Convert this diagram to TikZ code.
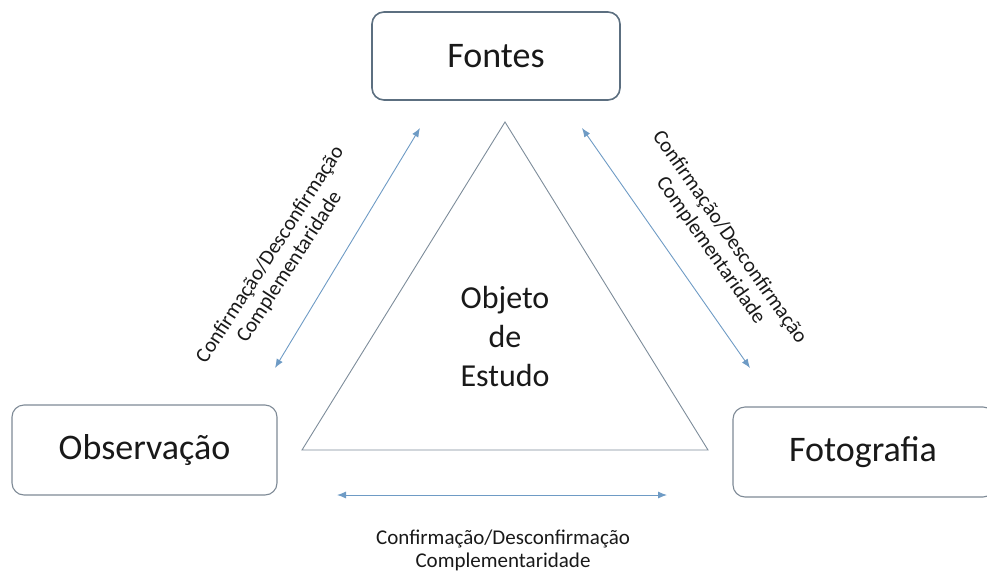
\documentclass[tikz,border=0pt]{standalone}
\usepackage{fontspec}
\setmainfont{Carlito}
\usetikzlibrary{arrows.meta}
\definecolor{boxline}{HTML}{7E8A96}
\definecolor{topline}{HTML}{5C6F80}
\definecolor{arrowblue}{HTML}{6E9BC5}
\definecolor{triline}{HTML}{7D8C9A}
\tikzset{
  rbox/.style={draw=boxline, line width=1.1pt, rounded corners=12pt, fill=white,
    inner sep=0pt, font=\fontsize{36}{43}\selectfont, text=black!90},
  biarrow/.style={draw=arrowblue, line width=0.9pt, {Latex[length=9pt,width=7pt]}-{Latex[length=9pt,width=7pt]}},
  lbl/.style={align=center, inner sep=0pt, font=\fontsize{21}{23}\selectfont, text=black!90},
}
\begin{document}
\begin{tikzpicture}[x=1pt,y=-1pt]
\useasboundingbox (0,0) rectangle (987,573);
\clip (0,0) rectangle (987,573);
% boxes
\node[rbox, draw=topline, line width=1.6pt, minimum width=248pt, minimum height=88pt] (fontes) at (496,56) {Fontes};
\node[rbox, minimum width=265pt, minimum height=90pt] (obs) at (144.5,450) {Observação};
\node[rbox, minimum width=262pt, minimum height=90pt] (foto) at (864,452) {\hspace*{-2pt}Fotografia};
% triangle
\coordinate (tA) at (505,122);
\coordinate (tB) at (302,450);
\coordinate (tC) at (708,450);
\draw[triline, line width=0.9pt, line join=miter] (tA) -- (tB) -- (tC) -- cycle;
\node[align=center, inner sep=0pt, font=\fontsize{32}{39}\selectfont, text=black!90] (obj) at (505,337) {Objeto\\de\\Estudo};
% arrows
\coordinate (l1) at (420,128);
\coordinate (l2) at (275,368);
\draw[biarrow] (l2) -- (l1);
\coordinate (r1) at (582,128);
\coordinate (r2) at (750,368);
\draw[biarrow] (r1) -- (r2);
\coordinate (b1) at (337,495);
\coordinate (b2) at (667,495);
\draw[biarrow] (b1) -- (b2);
% labels
\node[lbl, rotate=57] (lleft) at (280,261) {Confirmação/Desconfirmação\\Complementaridade};
\node[lbl, rotate=-55] (lright) at (720,244) {Confirmação/Desconfirmação\\Complementaridade};
\node[lbl] (lbottom) at (503,550) {Confirmação/Desconfirmação\\Complementaridade};
\end{tikzpicture}
\end{document}
